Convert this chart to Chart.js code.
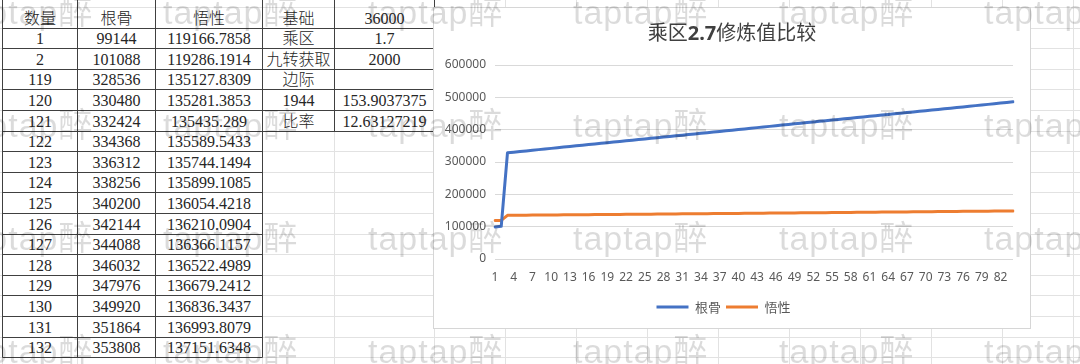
<!DOCTYPE html>
<html><head><meta charset="utf-8">
<script src="https://cdn.jsdelivr.net/npm/chart.js@4"></script>
<style>
html,body{margin:0;padding:0;width:1080px;height:364px;overflow:hidden;background:#fff;}
#sheet{position:absolute;left:0;top:0;}
#box{position:absolute;left:434px;top:8px;width:596px;height:320px;background:#fff;box-shadow:0 0 0 1px #d6d6d6;}
#c{display:block;}
#wm{position:absolute;left:0;top:0;pointer-events:none;}
</style></head><body>
<svg id="sheet" width="1080" height="364"></svg>
<div id="box"><canvas id="c" width="596" height="320"></canvas></div>
<svg id="wm" width="1080" height="364"></svg>
<script>
// ---------- data ----------
const tableHeader = ['数量', '根骨', '悟性'];
const tableQty = ['1','2','119','120','121','122','123','124','125','126','127','128','129','130','131','132'];
const tableGenGu = ['99144','101088','328536','330480','332424','334368','336312','338256','340200','342144','344088','346032','347976','349920','351864','353808'];
const tableWuXing = ['119166.7858','119286.1914','135127.8309','135281.3853','135435.289','135589.5433','135744.1494','135899.1085','136054.4218','136210.0904','136366.1157','136522.4989','136679.2412','136836.3437','136993.8079','137151.6348'];
const paramNames = ['基础', '乘区', '九转获取', '边际', '1944', '比率'];
const paramValues = ['36000', '1.7', '2000', '', '153.9037375', '12.63127219'];

const titleParts = [{t:'乘区', b:false}, {t:'2.7', b:true}, {t:'修炼值比较', b:false}];
const seriesNames = ['根骨', '悟性'];
const categories = [1,2,3,4,5,6,7,8,9,10,11,12,13,14,15,16,17,18,19,20,21,22,23,24,25,26,27,28,29,30,31,32,33,34,35,36,37,38,39,40,41,42,43,44,45,46,47,48,49,50,51,52,53,54,55,56,57,58,59,60,61,62,63,64,65,66,67,68,69,70,71,72,73,74,75,76,77,78,79,80,81,82,83,84];
const genGu = [99144,101088,328536,330480,332424,334368,336312,338256,340200,342144,344088,346032,347976,349920,351864,353808,355752,357696,359640,361584,363528,365472,367416,369360,371304,373248,375192,377136,379080,381024,382968,384912,386856,388800,390744,392688,394632,396576,398520,400464,402408,404352,406296,408240,410184,412128,414072,416016,417960,419904,421848,423792,425736,427680,429624,431568,433512,435456,437400,439344,441288,443232,445176,447120,449064,451008,452952,454896,456840,458784,460728,462672,464616,466560,468504,470448,472392,474336,476280,478224,480168,482112,484056,486000];
const wuXing = [119166.79,119286.19,135127.83,135281.39,135435.29,135589.54,135744.15,135899.11,136054.42,136210.09,136366.12,136522.50,136679.24,136836.34,136993.81,137151.63,
137309.8,137468.3,137627.2,137786.5,137946.1,138106.1,138266.5,138427.2,138588.3,138749.7,
138911.5,139073.7,139236.3,139399.2,139562.5,139726.2,139890.3,140054.6,140219.5,140384.6,
140550.1,140716.0,140882.3,141049.0,141216.0,141383.5,141551.3,141719.4,141888.0,142056.9,
142226.2,142396.1,142566.1,142736.7,142907.5,143078.7,143250.4,143422.5,143594.9,143767.7,
143940.9,144114.5,144288.5,144462.9,144638.1,144813.3,144988.9,145164.9,145341.4,145518.1,
145695.3,145873.0,146051.0,146229.4,146408.2,146587.4,146767.1,146947.2,147127.7,147308.6,
147489.8,147671.6,147853.7,148036.2,148219.2,148402.4,148586.3,148770.4];
const watermarkText = 'taptap醉';

// ---------- spreadsheet background + table ----------
const NS = 'http://www.w3.org/2000/svg';
function el(parent, tag, attrs, text) {
  const e = document.createElementNS(NS, tag);
  for (const k in attrs) e.setAttribute(k, attrs[k]);
  if (text != null) e.textContent = text;
  parent.appendChild(e);
  return e;
}
const sheet = document.getElementById('sheet');
const colEdges = [2.5, 77.5, 155.5, 262.5, 334.5, 434.5, 505.5, 576.5, 647.5, 718.5, 789.5, 860.5, 931.5, 1002.5, 1073.5];
const rowEdges = [];
for (let i = 0; i < 18; i++) rowEdges.push(Math.round(7 + 20.6 * i) + 0.5);
const light = '#e2e2e2', dark = '#404040';
rowEdges.forEach(y => el(sheet, 'line', {x1:0, x2:1080, y1:y, y2:y, stroke:light}));
colEdges.forEach(x => el(sheet, 'line', {x1:x, x2:x, y1:0, y2:364, stroke:light}));
for (let i = 1; i <= 17; i++) el(sheet, 'line', {x1:colEdges[0], x2:colEdges[3], y1:rowEdges[i], y2:rowEdges[i], stroke:dark});
for (let i = 1; i <= 6; i++) el(sheet, 'line', {x1:colEdges[3], x2:colEdges[5], y1:rowEdges[i], y2:rowEdges[i], stroke:dark});
for (let j = 0; j <= 3; j++) el(sheet, 'line', {x1:colEdges[j], x2:colEdges[j], y1:0, y2:rowEdges[17], stroke:dark});
for (let j = 4; j <= 5; j++) el(sheet, 'line', {x1:colEdges[j], x2:colEdges[j], y1:0, y2:rowEdges[6], stroke:dark});

function cellText(col, row, txt) {
  if (!txt) return;
  const cx = (colEdges[col] + colEdges[col + 1]) / 2;
  const cy = (rowEdges[row] + rowEdges[row + 1]) / 2;
  el(sheet, 'text', {x:cx, y:cy + 5.5, 'text-anchor':'middle', fill:'#262626',
    'font-family':'Liberation Serif, Noto Sans CJK SC', 'font-weight':300, 'font-size':16}, txt);
}
tableHeader.forEach((h, j) => cellText(j, 0, h));
tableQty.forEach((v, i) => {
  cellText(0, i + 1, v);
  cellText(1, i + 1, tableGenGu[i]);
  cellText(2, i + 1, tableWuXing[i]);
});
paramNames.forEach((n, i) => { cellText(3, i, n); cellText(4, i, paramValues[i]); });

// ---------- chart ----------
const axisFont = {family:'Noto Sans', size:12};
new Chart(document.getElementById('c'), {
  type: 'line',
  data: {
    labels: categories,
    datasets: [
      {label: seriesNames[0], data: genGu, borderColor:'#4472C4', backgroundColor:'#4472C4', borderWidth:3, pointRadius:0, tension:0, borderCapStyle:'round', borderJoinStyle:'round'},
      {label: seriesNames[1], data: wuXing, borderColor:'#ED7D31', backgroundColor:'#ED7D31', borderWidth:3, pointRadius:0, tension:0, borderCapStyle:'round', borderJoinStyle:'round'}
    ]
  },
  options: {
    responsive: false,
    animation: false,
    layout: {padding: {top:57, right:17, bottom:4.5, left:0}},
    scales: {
      x: {
        offset: false,
        grid: {display:false, drawTicks:false},
        border: {display:false},
        afterFit: s => { s.height = 36.5; },
        ticks: {autoSkip:false, maxRotation:0, minRotation:0, padding:11, color:'#595959', font:axisFont,
          callback: function(v, i) { return i % 3 === 0 ? String(categories[i]) : ''; }}
      },
      y: {
        min: 0, max: 600000,
        grid: {color:'#d9d9d9', drawTicks:false, lineWidth:1},
        border: {display:false},
        afterFit: s => { s.width = 61; },
        ticks: {stepSize:100000, padding:9, color:'#595959', font:axisFont,
          callback: v => String(v)}
      }
    },
    plugins: {
      title: {display:false},
      tooltip: {enabled:false},
      legend: {
        position: 'bottom',
        labels: {
          boxWidth: 32, boxHeight: 3, padding: 5, color:'#595959',
          font: {family:'Noto Sans CJK SC', size:13},
          generateLabels: chart => chart.data.datasets.map((d, i) => ({
            text: d.label, fillStyle: d.borderColor, strokeStyle: d.borderColor,
            lineWidth: 0, hidden: false, datasetIndex: i, fontColor: '#595959'
          }))
        }
      }
    }
  }
});

// ---------- title + watermark overlay ----------
const wm = document.getElementById('wm');
const title = el(wm, 'text', {x:732, y:40, 'text-anchor':'middle', fill:'#404040', 'font-size':20, 'font-family':'Noto Sans CJK SC'});
titleParts.forEach(p => {
  el(title, 'tspan', p.b ? {'font-weight':'bold', 'font-family':'Noto Sans'} : {}, p.t);
});
const wmBaselines = [24, 137, 250, 363];
const wmStarts = [-42, 163, 368, 573, 779, 984];
wmBaselines.forEach(y => wmStarts.forEach(x => {
  el(wm, 'text', {x:x, y:y, fill:'#000', 'fill-opacity':0.14, 'font-size':34, 'letter-spacing':1,
    'font-family':'Liberation Sans, Noto Sans CJK SC'}, watermarkText);
}));
</script>
</body></html>
